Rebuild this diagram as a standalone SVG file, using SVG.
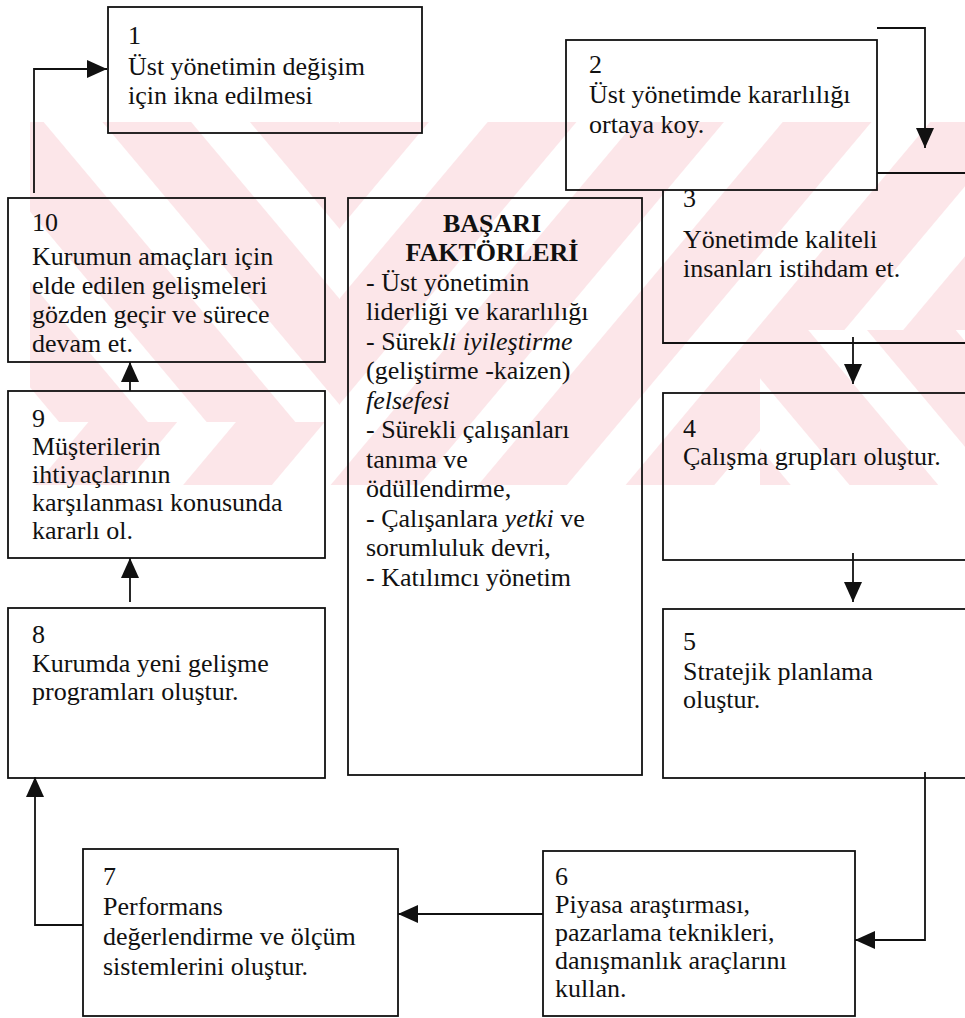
<svg xmlns="http://www.w3.org/2000/svg" width="965" height="1018" viewBox="0 0 965 1018">
<defs>
<style>
.box{fill:none;stroke:#111;stroke-width:1.8}
.t{font-family:'Liberation Serif','DejaVu Serif',serif;font-size:26px;fill:#111}
.b{font-weight:bold}
.i{font-style:italic}
.c{fill:none;stroke:#111;stroke-width:1.8}
</style>
<marker id="ah" viewBox="0 0 20 18" refX="20" refY="9" markerWidth="20" markerHeight="18" markerUnits="userSpaceOnUse" orient="auto"><path d="M0,0 L20,9 L0,18 z" fill="#111"/></marker>
<pattern id="wmL" patternUnits="userSpaceOnUse" width="113" height="10" patternTransform="rotate(-40)"><rect width="68" height="10" fill="#fce6e9"/></pattern>
<pattern id="wmR" patternUnits="userSpaceOnUse" width="113" height="10" patternTransform="rotate(40)"><rect width="68" height="10" fill="#fce6e9"/></pattern>
</defs>
<rect width="965" height="1018" fill="#fff"/>
<g id="watermark">
<rect x="30" y="122" width="310" height="300" fill="url(#wmL)"/>
<rect x="30" y="422" width="310" height="63" fill="url(#wmR)"/>
<rect x="340" y="122" width="420" height="363" fill="url(#wmR)"/>
<rect x="760" y="122" width="205" height="208" fill="url(#wmR)"/>
<rect x="760" y="330" width="205" height="155" fill="url(#wmL)"/>
</g>
<g id="connectors">
<path class="c" d="M34,193 V69 H107" marker-end="url(#ah)"/>
<path class="c" d="M877,28 H925 V148" marker-end="url(#ah)"/>
<path class="c" d="M853,337 V384" marker-end="url(#ah)"/>
<path class="c" d="M853,553 V602" marker-end="url(#ah)"/>
<path class="c" d="M925,772 V940 H855" marker-end="url(#ah)"/>
<path class="c" d="M543,914 H398" marker-end="url(#ah)"/>
<path class="c" d="M83,925 H35 V777" marker-end="url(#ah)"/>
<path class="c" d="M130,602 V558" marker-end="url(#ah)"/>
<path class="c" d="M130,391 V362" marker-end="url(#ah)"/>
</g>
<g id="n3">
<path class="box" d="M877,173 H975 M663,190 V343 H975"/>
<text class="t"><tspan x="683" y="207">3</tspan><tspan x="683" y="248">Yönetimde kaliteli</tspan><tspan x="683" y="277">insanları istihdam et.</tspan></text>
</g>
<g id="n1">
<rect class="box" x="108" y="7" width="314" height="126"/>
<text class="t"><tspan x="128" y="44">1</tspan><tspan x="128" y="75">Üst yönetimin değişim</tspan><tspan x="128" y="104">için ikna edilmesi</tspan></text>
</g>
<g id="n2">
<rect class="box" x="566" y="40" width="311" height="150"/>
<text class="t"><tspan x="589" y="73">2</tspan><tspan x="589" y="103">Üst yönetimde kararlılığı</tspan><tspan x="589" y="133">ortaya koy.</tspan></text>
</g>
<g id="n4">
<rect class="box" x="663" y="393" width="312" height="167"/>
<text class="t"><tspan x="683" y="437">4</tspan><tspan x="683" y="465">Çalışma grupları oluştur.</tspan></text>
</g>
<g id="n5">
<rect class="box" x="663" y="609" width="312" height="169"/>
<text class="t"><tspan x="683" y="650">5</tspan><tspan x="683" y="680">Stratejik planlama</tspan><tspan x="683" y="708">oluştur.</tspan></text>
</g>
<g id="n6">
<rect class="box" x="543" y="851" width="312" height="165"/>
<text class="t"><tspan x="555" y="885">6</tspan><tspan x="555" y="913">Piyasa araştırması,</tspan><tspan x="555" y="941">pazarlama teknikleri,</tspan><tspan x="555" y="969">danışmanlık araçlarını</tspan><tspan x="555" y="997">kullan.</tspan></text>
</g>
<g id="n7">
<rect class="box" x="83" y="849" width="315" height="167"/>
<text class="t"><tspan x="103" y="885">7</tspan><tspan x="103" y="915">Performans</tspan><tspan x="103" y="945">değerlendirme ve ölçüm</tspan><tspan x="103" y="975">sistemlerini oluştur.</tspan></text>
</g>
<g id="n8">
<rect class="box" x="8" y="608" width="317" height="170"/>
<text class="t"><tspan x="32" y="643">8</tspan><tspan x="32" y="672">Kurumda yeni gelişme</tspan><tspan x="32" y="700">programları oluştur.</tspan></text>
</g>
<g id="n9">
<rect class="box" x="8" y="391" width="317" height="167"/>
<text class="t"><tspan x="32" y="427">9</tspan><tspan x="32" y="455">Müşterilerin</tspan><tspan x="32" y="483">ihtiyaçlarının</tspan><tspan x="32" y="511">karşılanması konusunda</tspan><tspan x="32" y="539">kararlı ol.</tspan></text>
</g>
<g id="n10">
<rect class="box" x="8" y="198" width="317" height="164"/>
<text class="t"><tspan x="32" y="231">10</tspan><tspan x="32" y="265">Kurumun amaçları için</tspan><tspan x="32" y="294">elde edilen gelişmeleri</tspan><tspan x="32" y="323">gözden geçir ve sürece</tspan><tspan x="32" y="352">devam et.</tspan></text>
</g>
<g id="factors">
<rect class="box" x="348" y="198" width="294" height="577"/>
<text class="t b" text-anchor="middle"><tspan x="492" y="232">BAŞARI</tspan><tspan x="492" y="261">FAKTÖRLERİ</tspan></text>
<text class="t"><tspan x="366" y="291">- Üst yönetimin</tspan><tspan x="366" y="320">liderliği ve kararlılığı</tspan><tspan x="366" y="350">- Sürek<tspan class="i">li iyileştirme</tspan></tspan><tspan x="366" y="379">(geliştirme -kaizen)</tspan><tspan x="366" y="409" class="i">felsefesi</tspan><tspan x="366" y="438">- Sürekli çalışanları</tspan><tspan x="366" y="468">tanıma ve</tspan><tspan x="366" y="497">ödüllendirme,</tspan><tspan x="366" y="527">- Çalışanlara <tspan class="i">yetki</tspan> ve</tspan><tspan x="366" y="556">sorumluluk devri,</tspan><tspan x="366" y="586">- Katılımcı yönetim</tspan></text>
</g>
</svg>
